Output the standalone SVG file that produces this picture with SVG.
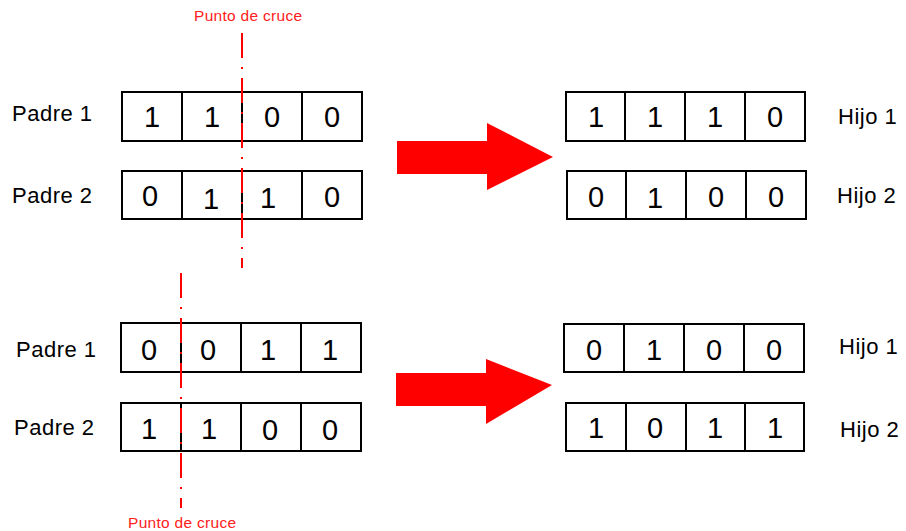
<svg xmlns="http://www.w3.org/2000/svg" width="906" height="531" viewBox="0 0 906 531">
<style>
.box{fill:#fff;stroke:#000;stroke-width:2}
.div{stroke:#000;stroke-width:2}
.lbl{font-family:"Liberation Sans",Arial,sans-serif;font-size:22px;fill:#000;letter-spacing:0.5px}
.dig{font-family:"Liberation Sans",Arial,sans-serif;font-size:29px;fill:#000;text-anchor:middle}
.cut{stroke:#ff0000;stroke-width:2;stroke-dasharray:25 9 2 9;fill:none}
.cutlbl{font-family:"Liberation Sans",Arial,sans-serif;font-size:15.5px;fill:#ff2020;letter-spacing:0.3px}
.arrow{fill:#ff0000}
</style>
<rect width="906" height="531" fill="#fff"/>

<g id="padre1-top">
<rect class="box" x="122" y="92" width="240" height="49"/>
<line class="div" x1="182" y1="92" x2="182" y2="141"/>
<line class="div" x1="242" y1="92" x2="242" y2="141"/>
<line class="div" x1="302" y1="92" x2="302" y2="141"/>
<text class="dig" x="152" y="127">1</text>
<text class="dig" x="212" y="127">1</text>
<text class="dig" x="272" y="127">0</text>
<text class="dig" x="332" y="127">0</text>
<text class="lbl" x="12" y="121">Padre 1</text>
</g>

<g id="padre2-top">
<rect class="box" x="122" y="171" width="240" height="48"/>
<line class="div" x1="182" y1="171" x2="182" y2="219"/>
<line class="div" x1="242" y1="171" x2="242" y2="219"/>
<line class="div" x1="302" y1="171" x2="302" y2="219"/>
<text class="dig" x="150" y="206">0</text>
<text class="dig" x="211" y="209">1</text>
<text class="dig" x="268" y="208">1</text>
<text class="dig" x="332" y="207">0</text>
<text class="lbl" x="12" y="203">Padre 2</text>
</g>

<g id="hijo1-top">
<rect class="box" x="566" y="92" width="239" height="49"/>
<line class="div" x1="625" y1="92" x2="625" y2="141"/>
<line class="div" x1="685" y1="92" x2="685" y2="141"/>
<line class="div" x1="745" y1="92" x2="745" y2="141"/>
<text class="dig" x="596" y="127">1</text>
<text class="dig" x="655" y="127">1</text>
<text class="dig" x="715" y="127">1</text>
<text class="dig" x="775" y="127">0</text>
<text class="lbl" x="838" y="124">Hijo 1</text>
</g>

<g id="hijo2-top">
<rect class="box" x="567" y="171" width="239" height="48"/>
<line class="div" x1="626" y1="171" x2="626" y2="219"/>
<line class="div" x1="686" y1="171" x2="686" y2="219"/>
<line class="div" x1="746" y1="171" x2="746" y2="219"/>
<text class="dig" x="596" y="207">0</text>
<text class="dig" x="655" y="208">1</text>
<text class="dig" x="716" y="207">0</text>
<text class="dig" x="776" y="207">0</text>
<text class="lbl" x="837" y="203">Hijo 2</text>
</g>

<g id="padre1-bottom">
<rect class="box" x="121" y="323" width="240" height="49"/>
<line class="div" x1="181" y1="323" x2="181" y2="372"/>
<line class="div" x1="241" y1="323" x2="241" y2="372"/>
<line class="div" x1="301" y1="323" x2="301" y2="372"/>
<text class="dig" x="149" y="360">0</text>
<text class="dig" x="208" y="360">0</text>
<text class="dig" x="268" y="360">1</text>
<text class="dig" x="330" y="360">1</text>
<text class="lbl" x="16" y="357">Padre 1</text>
</g>

<g id="padre2-bottom">
<rect class="box" x="121" y="403" width="240" height="48"/>
<line class="div" x1="181" y1="403" x2="181" y2="451"/>
<line class="div" x1="241" y1="403" x2="241" y2="451"/>
<line class="div" x1="301" y1="403" x2="301" y2="451"/>
<text class="dig" x="149" y="439">1</text>
<text class="dig" x="209" y="439">1</text>
<text class="dig" x="270" y="440">0</text>
<text class="dig" x="330" y="440">0</text>
<text class="lbl" x="14" y="435">Padre 2</text>
</g>

<g id="hijo1-bottom">
<rect class="box" x="564" y="324" width="240" height="48"/>
<line class="div" x1="624" y1="324" x2="624" y2="372"/>
<line class="div" x1="684" y1="324" x2="684" y2="372"/>
<line class="div" x1="744" y1="324" x2="744" y2="372"/>
<text class="dig" x="594" y="360">0</text>
<text class="dig" x="654" y="360">1</text>
<text class="dig" x="714" y="360">0</text>
<text class="dig" x="774" y="360">0</text>
<text class="lbl" x="839" y="354">Hijo 1</text>
</g>

<g id="hijo2-bottom">
<rect class="box" x="566" y="403" width="238" height="48"/>
<line class="div" x1="626" y1="403" x2="626" y2="451"/>
<line class="div" x1="686" y1="403" x2="686" y2="451"/>
<line class="div" x1="745" y1="403" x2="745" y2="451"/>
<text class="dig" x="596" y="438">1</text>
<text class="dig" x="655" y="438">0</text>
<text class="dig" x="715" y="438">1</text>
<text class="dig" x="775" y="438">1</text>
<text class="lbl" x="840" y="437">Hijo 2</text>
</g>

<g id="cut-top">
<line class="cut" x1="242" y1="33" x2="242" y2="268"/>
<text class="cutlbl" x="194" y="21">Punto de cruce</text>
</g>

<g id="cut-bottom">
<line class="cut" x1="181" y1="273" x2="181" y2="508"/>
<text class="cutlbl" x="128" y="528">Punto de cruce</text>
</g>

<g id="connectors">
<polygon class="arrow" points="397,141 487,141 487,123 553,157 487,190 487,174 397,174"/>
<polygon class="arrow" points="396,373 486,373 486,359 552,385 486,424 486,406 396,406"/>
</g>
</svg>
